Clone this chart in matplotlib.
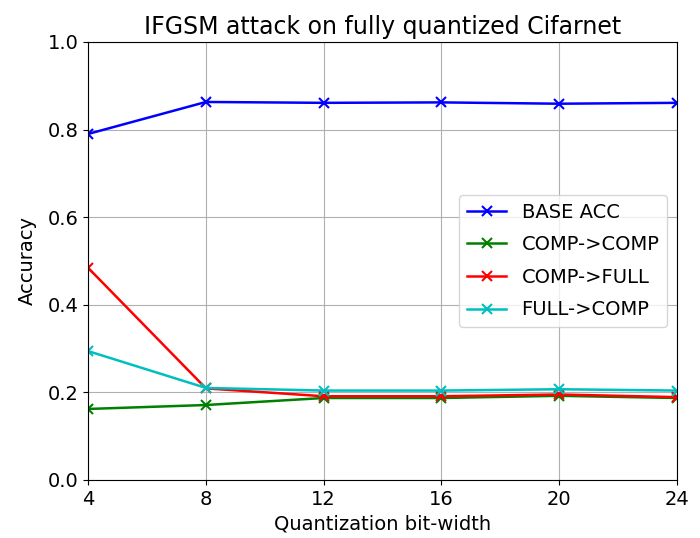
import matplotlib
matplotlib.use("Agg")
import matplotlib.pyplot as plt

bits = [4, 8, 12, 16, 20, 24]

base_acc = [0.790, 0.863, 0.861, 0.862, 0.859, 0.861]
comp_comp = [0.162, 0.171, 0.187, 0.187, 0.192, 0.187]
comp_full = [0.484, 0.209, 0.191, 0.191, 0.195, 0.189]
full_comp = [0.294, 0.210, 0.204, 0.204, 0.207, 0.204]

fig = plt.figure(figsize=(7, 5.38), dpi=100)
ax = fig.add_axes([0.126, 0.108, 0.841, 0.814])

# same marker style for all four runs
kw = dict(marker='x', lw=1.8, ms=7, mew=1.5)
ax.plot(bits, base_acc, 'b-', label='BASE ACC', **kw)
ax.plot(bits, comp_comp, 'g-', label='COMP->COMP', **kw)
ax.plot(bits, comp_full, 'r-', label='COMP->FULL', **kw)
ax.plot(bits, full_comp, 'c-', label='FULL->COMP', **kw)

ax.set_xlim(4, 24)
ax.set_ylim(0, 1.0)
ax.set_xticks(bits)
ax.tick_params(labelsize=14)
ax.grid(True)
ax.set_title('IFGSM attack on fully quantized Cifarnet', fontsize=17)
ax.set_xlabel('Quantization bit-width', fontsize=14)
ax.set_ylabel('Accuracy', fontsize=14, labelpad=8)
ax.legend(loc='center right', fontsize=14, labelspacing=0.7)

fig.savefig('out.png', dpi=100)
